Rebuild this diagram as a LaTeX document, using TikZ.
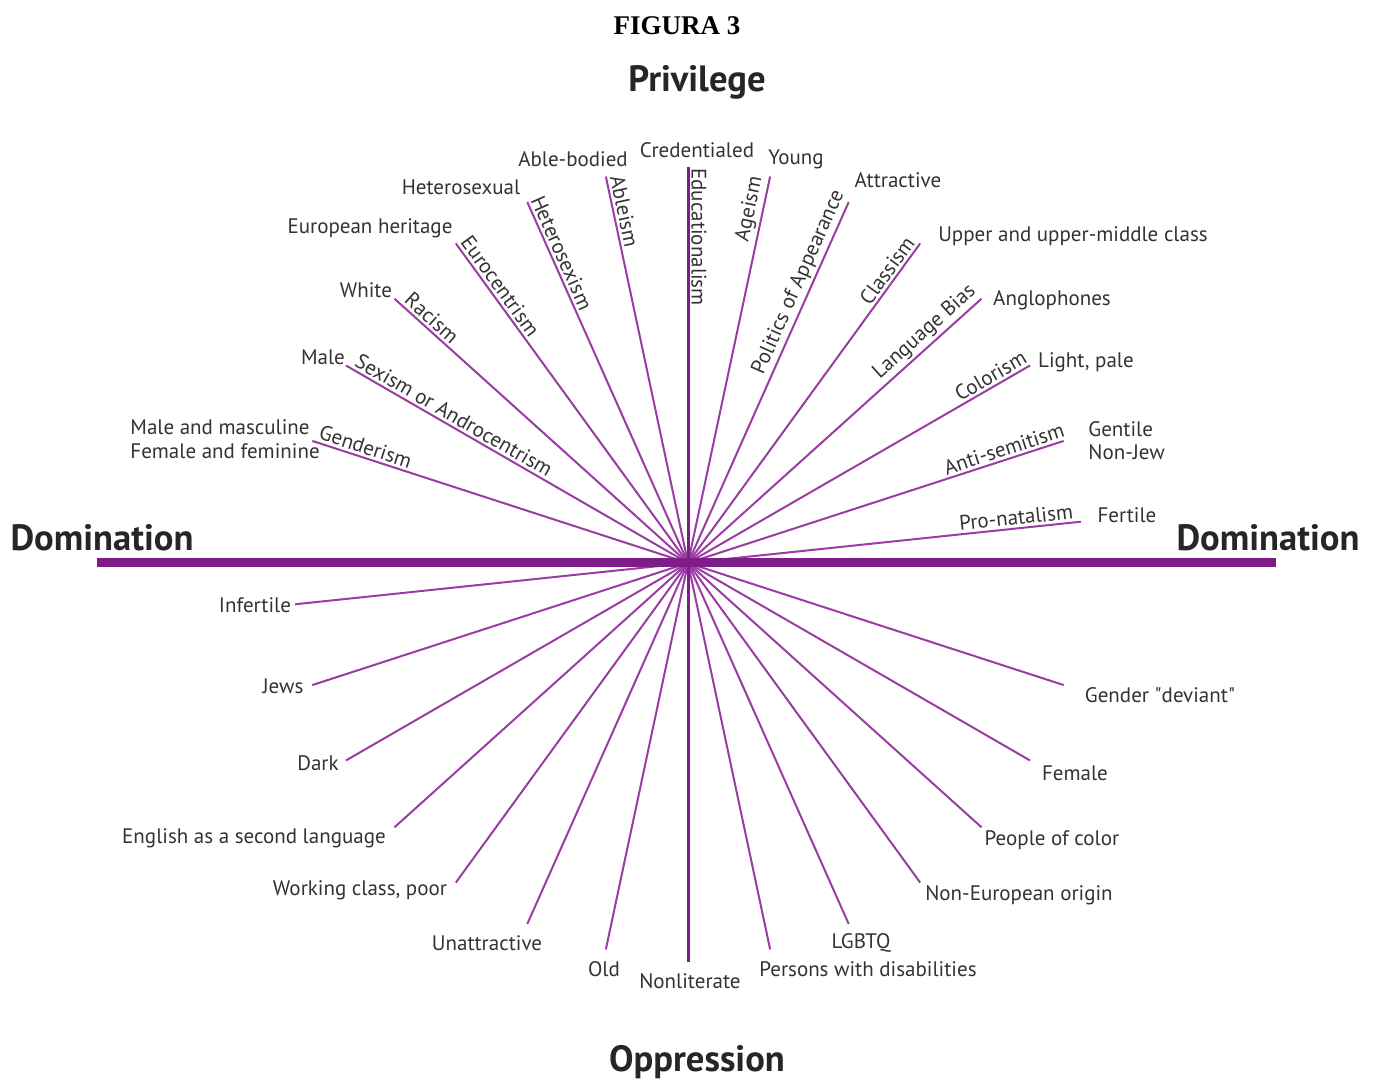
\documentclass[tikz,border=0pt]{standalone}
\usepackage{fontspec}
\setmainfont{PT Sans}
\newfontfamily\figfont{Liberation Serif}
\definecolor{raycol}{HTML}{9A3DA3}
\definecolor{barcol}{HTML}{7F1D88}
\definecolor{txt}{HTML}{333333}
\begin{document}
\begin{tikzpicture}[x=0.5pt,y=0.5pt,
  ray/.style={draw=raycol, line width=1pt},
  axis/.style={draw=barcol},
  lbl/.style={text=txt, font=\fontsize{10.5}{12.5}\selectfont, inner sep=1pt},
  rlbl/.style={lbl, sloped, above, inner sep=1.5pt},
  ttl/.style={text=black!85, font=\fontsize{18.3}{21}\selectfont\bfseries, inner sep=0pt}]
\useasboundingbox[fill=white] (-688,-517) rectangle (686,563);
\coordinate (c) at (0,0);
\foreach \a in {6,18,30,42,54,66,78,90,102,114,126,138,150,162,186,198,210,222,234,246,258,270,282,294,306,318,330,342}
  \coordinate (e\a) at (\a:395);
\foreach \a in {6,18,30,42,54,66,78,102,114,126,138,150,162,186,198,210,222,234,246,258,282,294,306,318,330,342}
  \draw[ray] (c) -- (e\a);
% axes
\coordinate (vt) at (0,396);
\coordinate (vb) at (0,-399);
\coordinate (hl) at (-591,0);
\coordinate (hr) at (588,0);
\draw[axis, line width=1.5pt] (vt) -- (vb);
\draw[axis, line width=4.5pt] (hl) -- (hr);
% titles
\node[font=\figfont\bfseries\fontsize{13.5}{15}\selectfont, inner sep=0pt] (fig) at (-11,537) {FIGURA 3};
\node[ttl] (priv) at (9,481) {Privilege};
\node[ttl] (domL) at (-586,25) {Domination};
\node[ttl] (domR) at (580,25) {Domination};
\node[ttl] (opp) at (9,-499) {Oppression};
% rotated labels upper left
\path (e162) -- (c) node[rlbl, pos=0.133] (g1) {Genderism};
\path (e150) -- (c) node[rlbl, pos=0.30] (g2) {Sexism or Androcentrism};
\path (e138) -- (c) node[rlbl, pos=0.103] (g3) {Racism};
\path (e126) -- (c) node[rlbl, pos=0.154] (g4) {Eurocentrism};
\path (e114) -- (c) node[rlbl, pos=0.153] (g5) {Heterosexism};
\path (e102) -- (c) node[rlbl, pos=0.096] (g6) {Ableism};
\path (vt) -- (c) node[rlbl, pos=0.177] (g7) {Educationalism};
% rotated labels upper right
\path (c) -- (e78) node[rlbl, pos=0.909] (h1) {Ageism};
\path (c) -- (e66) node[rlbl, pos=0.763] (h2) {Politics of Appearance};
\path (c) -- (e54) node[rlbl, pos=0.895] (h3) {Classism};
\path (c) -- (e42) node[rlbl, pos=0.836] (h4) {Language Bias};
\path (c) -- (e30) node[rlbl, pos=0.90] (h5) {Colorism};
\path (c) -- (e18) node[rlbl, pos=0.85] (h6) {Anti-semitism};
\path (c) -- (e6) node[rlbl, pos=0.838] (h7) {Pro-natalism};
% privileged groups
\node[lbl] (credentialed) at (9,413) {Credentialed};
\node[lbl] (able) at (-115,404) {Able-bodied};
\node[lbl] (hetero) at (-227,376) {Heterosexual};
\node[lbl] (euro) at (-318,335) {European heritage};
\node[lbl] (white) at (-322,273) {White};
\node[lbl] (male) at (-365,206) {Male};
\node[lbl, anchor=west] (masc) at (-560,136) {Male and masculine};
\node[lbl, anchor=west] (fem) at (-560,112) {Female and feminine};
\node[lbl] (young) at (108,404) {Young};
\node[lbl] (attr) at (210,383) {Attractive};
\node[lbl] (upper) at (385,327) {Upper and upper-middle class};
\node[lbl] (anglo) at (364,263) {Anglophones};
\node[lbl] (light) at (398,201) {Light, pale};
\node[lbl, anchor=west] (gentile) at (398,134) {Gentile};
\node[lbl, anchor=west] (nonjew) at (398,111) {Non-Jew};
\node[lbl] (fertile) at (439,48) {Fertile};
% oppressed groups
\node[lbl] (infertile) at (-433,-42) {Infertile};
\node[lbl] (jews) at (-405,-123) {Jews};
\node[lbl] (dark) at (-370,-200) {Dark};
\node[lbl] (esl) at (-434,-275) {English as a second language};
\node[lbl] (working) at (-328,-327) {Working class, poor};
\node[lbl] (unattr) at (-201,-380) {Unattractive};
\node[lbl] (old) at (-84,-406) {Old};
\node[lbl] (nonlit) at (2,-418) {Nonliterate};
\node[lbl] (lgbtq) at (173,-380) {LGBTQ};
\node[lbl] (pwd) at (180,-406) {Persons with disabilities};
\node[lbl] (noneuro) at (331,-332) {Non-European origin};
\node[lbl] (poc) at (364,-277) {People of color};
\node[lbl] (female) at (387,-210) {Female};
\node[lbl] (gdev) at (472,-132) {Gender \textquotedbl deviant\textquotedbl};
\end{tikzpicture}
\end{document}
